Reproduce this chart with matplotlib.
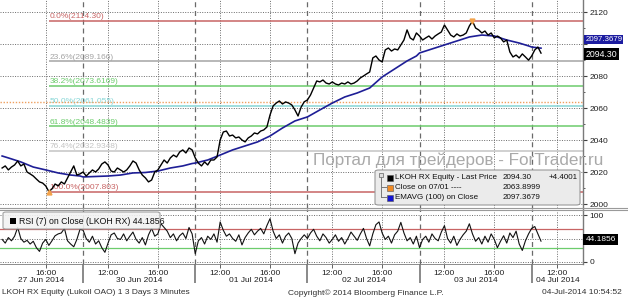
import matplotlib
matplotlib.use('Agg')
import matplotlib.pyplot as plt
from matplotlib import font_manager
from matplotlib.patches import FancyBboxPatch, Rectangle
from matplotlib.transforms import blended_transform_factory

# narrow sans for the Bloomberg style labels
names = {f.name for f in font_manager.fontManager.ttflist}
narrow = 'Liberation Sans Narrow' if 'Liberation Sans Narrow' in names else 'Liberation Sans'
plt.rcParams['font.family'] = [narrow, 'DejaVu Sans']
fs = 6.2 if narrow == 'Liberation Sans Narrow' else 5.4

# ---- data (3-minute chart read at 15 minute steps) ----
days = ['27 Jun 2014', '30 Jun 2014', '01 Jul 2014', '02 Jul 2014', '03 Jul 2014', '04 Jul 2014']
first_hour = [12.5, 10, 10, 10, 10, 10]

price_27jun = [2022.5, 2023.8, 2021.3, 2023.1, 2024.4, 2026.9, 2023.8, 2025.0, 2020.0, 2018.8,
               2017.5, 2015.6, 2013.8, 2013.1, 2011.3, 2007.8, 2009.4, 2012.5, 2011.3, 2013.8,
               2012.5, 2016.3, 2020.0, 2023.8, 2018.1, 2018.8]
price_30jun = [2020.0, 2017.5, 2019.4, 2021.3, 2020.0, 2021.9, 2025.0, 2026.3, 2024.4, 2020.6,
               2020.0, 2022.5, 2021.3, 2020.0, 2021.3, 2023.8, 2026.9, 2025.6, 2021.3, 2018.1,
               2016.3, 2013.8, 2015.0, 2020.0, 2021.3, 2024.4, 2027.5, 2025.6, 2028.8, 2030.6,
               2029.4, 2032.5, 2033.8, 2031.9, 2035.0, 2033.8]
price_01jul = [2028.8, 2025.6, 2023.8, 2026.3, 2024.4, 2027.5, 2027.5, 2029.4, 2040.0, 2045.0,
               2045.6, 2042.5, 2043.1, 2041.3, 2041.9, 2040.0, 2038.8, 2041.3, 2042.5, 2044.4,
               2043.8, 2045.6, 2046.3, 2048.1, 2055.6, 2061.3, 2063.1, 2064.4, 2062.5, 2063.8,
               2063.1, 2061.9, 2058.8, 2055.0, 2060.6, 2063.9]
price_02jul = [2065.0, 2068.1, 2072.5, 2076.9, 2076.3, 2077.5, 2075.6, 2075.0, 2076.3, 2075.0,
               2074.4, 2075.6, 2075.0, 2076.3, 2075.0, 2075.6, 2076.9, 2078.8, 2080.0, 2081.3,
               2082.5, 2091.3, 2092.5, 2090.0, 2088.8, 2096.3, 2097.5, 2095.6, 2096.9, 2096.3,
               2099.4, 2102.5, 2108.8, 2103.8, 2102.5, 2106.9]
price_03jul = [2105.0, 2102.5, 2103.8, 2105.0, 2103.1, 2105.0, 2106.3, 2107.5, 2111.9, 2108.8,
               2105.6, 2104.4, 2106.3, 2105.0, 2105.6, 2106.9, 2111.3, 2114.3, 2110.0, 2108.8,
               2106.9, 2108.1, 2105.6, 2106.9, 2103.8, 2105.0, 2103.8, 2101.3, 2102.5, 2095.0,
               2091.9, 2093.1, 2091.3, 2093.8, 2091.9, 2089.9]
price_04jul = [2092.5, 2096.3, 2098.1, 2094.3]

rsi_27jun = [48, 40, 52, 45, 55, 74, 50, 42, 46, 38, 44, 30, 22, 40, 48, 35, 45, 56, 60, 62,
             72, 45, 38, 32, 48, 70]
rsi_30jun = [68, 50, 42, 55, 38, 45, 30, 20, 40, 58, 62, 50, 48, 60, 45, 55, 64, 48, 40, 52,
             36, 58, 72, 55, 60, 82, 74, 66, 52, 60, 45, 56, 62, 50, 74, 60]
rsi_01jul = [17, 45, 52, 38, 55, 48, 60, 42, 86, 68, 55, 60, 50, 44, 58, 36, 52, 62, 70, 58,
             66, 72, 60, 78, 93, 66, 50, 58, 40, 55, 62, 50, 17, 40, 50, 58]
rsi_02jul = [50, 62, 70, 55, 45, 60, 52, 40, 48, 58, 44, 52, 38, 50, 64, 55, 46, 60, 72, 50,
             34, 60, 80, 86, 62, 48, 55, 40, 58, 66, 85, 62, 45, 52, 38, 55]
rsi_03jul = [30, 48, 55, 42, 60, 50, 45, 64, 78, 50, 40, 55, 35, 48, 58, 66, 82, 60, 44, 52,
             38, 55, 42, 60, 48, 30, 44, 56, 40, 62, 52, 66, 38, 24, 45, 60]
rsi_04jul = [72, 76, 60, 44.1856]

# EMA(100) read hourly
ema_hours = [[12.5, 13, 14, 15, 16, 17, 18, 18.75]] + \
            [[10, 11, 12, 13, 14, 15, 16, 17, 18, 18.75]] * 4 + [[10, 10.75]]
ema_27jun = [2030.0, 2028.8, 2026.3, 2023.1, 2021.3, 2019.4, 2018.1, 2017.5]
ema_30jun = [2016.9, 2017.2, 2017.5, 2018.1, 2019.4, 2019.7, 2020.6, 2022.5, 2023.8, 2025.3]
ema_01jul = [2025.6, 2027.5, 2030.6, 2033.8, 2036.3, 2038.8, 2042.5, 2047.5, 2051.9, 2053.8]
ema_02jul = [2054.4, 2058.8, 2063.1, 2066.9, 2069.4, 2072.5, 2079.4, 2084.4, 2089.4, 2092.5]
ema_03jul = [2094.4, 2096.9, 2099.4, 2101.9, 2104.4, 2105.6, 2105.0, 2102.5, 2100.6, 2098.8]
ema_04jul = [2098.1, 2097.4]

price_ticks = [2000, 2020, 2040, 2060, 2080, 2100, 2120]
price_tick_labels = ['2000', '2020', '2040', '2060', '2080', '', '2120']  # 2100 sits under the tags

fib_values = [2114.30, 2089.166, 2073.6169, 2061.055, 2048.4839, 2032.9348, 2007.803]
fib_labels = ['0.0%(2114.30)', '23.6%(2089.166)', '38.2%(2073.6169)', '50.0%(2061.055)',
              '61.8%(2048.4839)', '76.4%(2032.9348)', '100.0%(2007.803)']
fib_colors = ['#c86464', '#a4a4a4', '#6ccc6c', '#86d6d6', '#6ccc6c', '#c4c4c4', '#c86464']
close_0701 = 2063.8999
last_price, last_ema, last_rsi, change = 2094.30, 2097.3679, 44.1856, 4.4001


# trading session compressed axis: each day is 9 hours (10:00-19:00)
def sess(day, hour):
    return day * 9 + hour - 10


price_days = [price_27jun, price_30jun, price_01jul, price_02jul, price_03jul, price_04jul]
rsi_days = [rsi_27jun, rsi_30jun, rsi_01jul, rsi_02jul, rsi_03jul, rsi_04jul]
ema_days = [ema_27jun, ema_30jun, ema_01jul, ema_02jul, ema_03jul, ema_04jul]

t_bar, price, rsi = [], [], []
for d, (p, r) in enumerate(zip(price_days, rsi_days)):
    for k in range(len(p)):
        t_bar.append(sess(d, first_hour[d] + 0.25 * k))
    price += p
    rsi += r
t_ema, ema = [], []
for d, (hrs, e) in enumerate(zip(ema_hours, ema_days)):
    t_ema += [sess(d, h) for h in hrs]
    ema += e

xmin, xmax = sess(0, 12.33), sess(5, 14.12)
W, H = 628, 300


def fx(px):
    return px / W


def fy(py):
    return 1 - py / H


fig = plt.figure(figsize=(6.28, 3.0), dpi=100)
ax1 = fig.add_axes([0, fy(208), fx(583), fy(0) - fy(208)])
ax2 = fig.add_axes([0, fy(264), fx(583), fy(209) - fy(264)])

grid_c = '#6a6a6a'
day_bounds = [sess(d, 10) for d in range(1, 6)]
hour_lines = [sess(d, h) for d in range(6) for h in (12, 16) if xmin < sess(d, h) < xmax]

for ax in (ax1, ax2):
    ax.set_xlim(xmin, xmax)
    for s in ('top', 'left'):
        ax.spines[s].set_visible(False)
    ax.spines['right'].set_color('#7a7a7a')
    ax.spines['right'].set_linewidth(1.0)
    for x in day_bounds:
        ax.axvline(x, color=grid_c, lw=0.9, ls=(0, (4, 3)), zorder=1)
    for x in hour_lines:
        ax.axvline(x, color=grid_c, lw=0.7, ls=(0, (1, 1.5)), zorder=1)
    ax.yaxis.tick_right()
    ax.tick_params(axis='y', which='both', direction='out', color='#404040',
                   labelsize=fs + 0.6, pad=1.5, labelcolor='#202020')
    ax.tick_params(axis='y', which='major', length=3, width=0.8)
    ax.tick_params(axis='y', which='minor', length=1.5, width=0.6)

# ---- price panel ----
ax1.set_ylim(1997.5, 2127.5)
ax1.set_yticks(price_ticks)
ax1.set_yticklabels(price_tick_labels)
ax1.set_yticks(range(2010, 2121, 20), minor=True)
ax1.spines['bottom'].set_visible(False)
ax1.set_xticks([])
for v in price_ticks:
    ax1.axhline(v, color=grid_c, lw=0.7, ls=(0, (1, 1.5)), zorder=1)

t_low = t_bar[price.index(min(price))]
t_high = t_bar[price.index(max(price))]
for v, lab, c in zip(fib_values, fib_labels, fib_colors):
    ax1.hlines(v, t_low, xmax, color=c, lw=1.1, zorder=2)
    ax1.annotate(lab, (t_low, v), xytext=(0.5, 0.6), textcoords='offset points',
                 color=c, fontsize=fs + 0.6, va='bottom', ha='left', zorder=2)
ax1.axhline(close_0701, color='#eea060', lw=1.0, ls=(0, (1, 1.2)), zorder=2)

ax1.plot(t_ema, ema, color='#1e1e96', lw=1.2, zorder=3)
ax1.plot(t_bar, price, color='black', lw=1.0, zorder=4)
ax1.plot([t_high], [max(price)], marker='v', color='#f2a24a', ms=3.5, zorder=5)
ax1.plot([t_low], [min(price)], marker='^', color='#f2a24a', ms=3.5, zorder=5)

# last value tags on the right axis (EMA tag sits just above the price tag)
ytr1 = blended_transform_factory(ax1.transAxes, ax1.transData)
ax1.text(1.004, last_ema + 5.6, f'{last_ema:.4f}', transform=ytr1, color='white',
         fontsize=fs + 0.3, va='center', ha='left', zorder=6, clip_on=False,
         bbox=dict(boxstyle='square,pad=0.12', fc='#1c1ca0', ec='none'))
ax1.text(1.004, last_price - 0.8, f'{last_price:.2f}', transform=ytr1, color='white',
         fontsize=fs + 0.9, va='center', ha='left', zorder=7, clip_on=False,
         bbox=dict(boxstyle='square,pad=0.18', fc='black', ec='none'))

# ---- RSI panel ----
ax2.set_ylim(-5.4, 114.1)
ax2.set_yticks([0, 100])
ax2.set_yticks([50], minor=True)
for v in (0, 50, 100):
    ax2.axhline(v, color=grid_c, lw=0.7, ls=(0, (1, 1.5)), zorder=1)
ax2.axhline(70, color='#c86464', lw=0.9, zorder=2)
ax2.axhline(30, color='#6ccc6c', lw=0.9, zorder=2)
ax2.plot(t_bar, rsi, color='#111111', lw=0.8, zorder=3)
ax2.spines['bottom'].set_color('#7a7a7a')
ax2.spines['bottom'].set_linewidth(0.6)

ytr2 = blended_transform_factory(ax2.transAxes, ax2.transData)
ax2.text(1.004, last_rsi + 3, f'{last_rsi:.4f}', transform=ytr2, color='white',
         fontsize=fs + 0.6, va='center', ha='left', zorder=6, clip_on=False,
         bbox=dict(boxstyle='square,pad=0.25', fc='black', ec='none'))

tick_pos = [sess(d, h) for d in range(6) for h in (12, 16) if xmin < sess(d, h) < xmax]
tick_lab = ['%d:00' % h for d in range(6) for h in (12, 16) if xmin < sess(d, h) < xmax]
ax2.set_xticks(tick_pos)
ax2.set_xticklabels(tick_lab)
ax2.set_xticks(day_bounds, minor=True)
ax2.tick_params(axis='x', which='major', length=3, width=0.7, color='#606060',
                labelsize=fs + 0.6, pad=1.2, labelcolor='#202020')
ax2.tick_params(axis='x', which='minor', length=14, width=1.1, color='#6a6a6a')

# date labels centred in the visible part of each day
dtr = blended_transform_factory(ax2.transData, fig.transFigure)
for d, name in enumerate(days):
    a, b = max(sess(d, 10), xmin), min(sess(d, 19), xmax)
    ax2.text((a + b) / 2, fy(281), name, transform=dtr, ha='center', va='center',
             fontsize=fs + 0.6, color='#202020', clip_on=False)

# panel separator
for py in (207.6, 209.6):
    fig.add_artist(plt.Line2D([0, 1], [fy(py), fy(py)], color='#9a9a9a', lw=0.8))

# ---- legend boxes (figure level, drawn above the axes) ----
box = FancyBboxPatch((fx(375), fy(205)), fx(580) - fx(375), fy(170) - fy(205),
                     boxstyle='round,pad=0,rounding_size=0.006', transform=fig.transFigure,
                     fc='#ebebeb', ec='#999999', lw=0.8, zorder=4)
fig.add_artist(box)
fig.add_artist(plt.Line2D([fx(381), fx(381)], [fy(175), fy(197)], color='#777777', lw=0.7,
                          zorder=5))
for py in (187, 197):
    fig.add_artist(plt.Line2D([fx(381), fx(386)], [fy(py), fy(py)], color='#777777', lw=0.7,
                              zorder=5))
fig.add_artist(Rectangle((fx(379), fy(177)), fx(4), fy(173) - fy(177), transform=fig.transFigure,
                         fc='#dddddd', ec='#777777', lw=0.6, zorder=5))
leg_fs = fs + 0.4
leg_rows = [('LKOH RX Equity - Last Price', f'{last_price:.2f}', f'+{change:.4f}', 'black'),
            ('Close on 07/01 ----', f'{close_0701:.4f}', '', '#f08a24'),
            ('EMAVG (100) on Close', f'{last_ema:.4f}', '', '#1414d2')]
for i, (lab, val, chg, c) in enumerate(leg_rows):
    py = 177.5 + 10 * i
    fig.add_artist(Rectangle((fx(387), fy(py + 3)), fx(6), fy(py - 3) - fy(py + 3),
                             transform=fig.transFigure, fc=c, ec='#555555', lw=0.4, zorder=5))
    fig.text(fx(395), fy(py), lab, fontsize=leg_fs, va='center', ha='left', color='#111111',
             zorder=6)
    fig.text(fx(503), fy(py), val, fontsize=leg_fs, va='center', ha='left', color='#111111',
             zorder=6)
    if chg:
        fig.text(fx(578), fy(py), chg, fontsize=leg_fs, va='center', ha='right',
                 color='#111111', zorder=6)

rbox = FancyBboxPatch((fx(3), fy(229)), fx(160) - fx(3), fy(212) - fy(229),
                      boxstyle='round,pad=0,rounding_size=0.005', transform=fig.transFigure,
                      fc='#f2f2f2', ec='#999999', lw=0.8, alpha=0.9, zorder=4)
fig.add_artist(rbox)
fig.add_artist(Rectangle((fx(10), fy(224)), fx(6), fy(218) - fy(224), transform=fig.transFigure,
                         fc='black', ec='none', zorder=5))
fig.text(fx(19), fy(221), f'RSI (7) on Close (LKOH RX) {last_rsi:.4f}', fontsize=fs + 0.9,
         va='center', ha='left', color='#111111', zorder=6)

# watermark
fig.text(fx(313), fy(160), 'Портал для трейдеров - ForTrader.ru', fontsize=12.3,
         family='Liberation Sans', color='#a9a9a9', va='center', ha='left', zorder=3)

# footer
fig.text(fx(2), fy(293), 'LKOH RX Equity (Lukoil OAO) 1 3 Days 3 Minutes', fontsize=fs + 0.6,
         va='center', ha='left', color='#303030')
fig.text(fx(288), fy(293), 'Copyright\u00a9 2014 Bloomberg Finance L.P.', fontsize=fs + 0.6,
         va='center', ha='left', color='#303030')
fig.text(fx(622), fy(293), '04-Jul-2014 10:54:52', fontsize=fs + 0.6,
         va='center', ha='right', color='#303030')

fig.savefig('out.png', dpi=100, facecolor='white')
